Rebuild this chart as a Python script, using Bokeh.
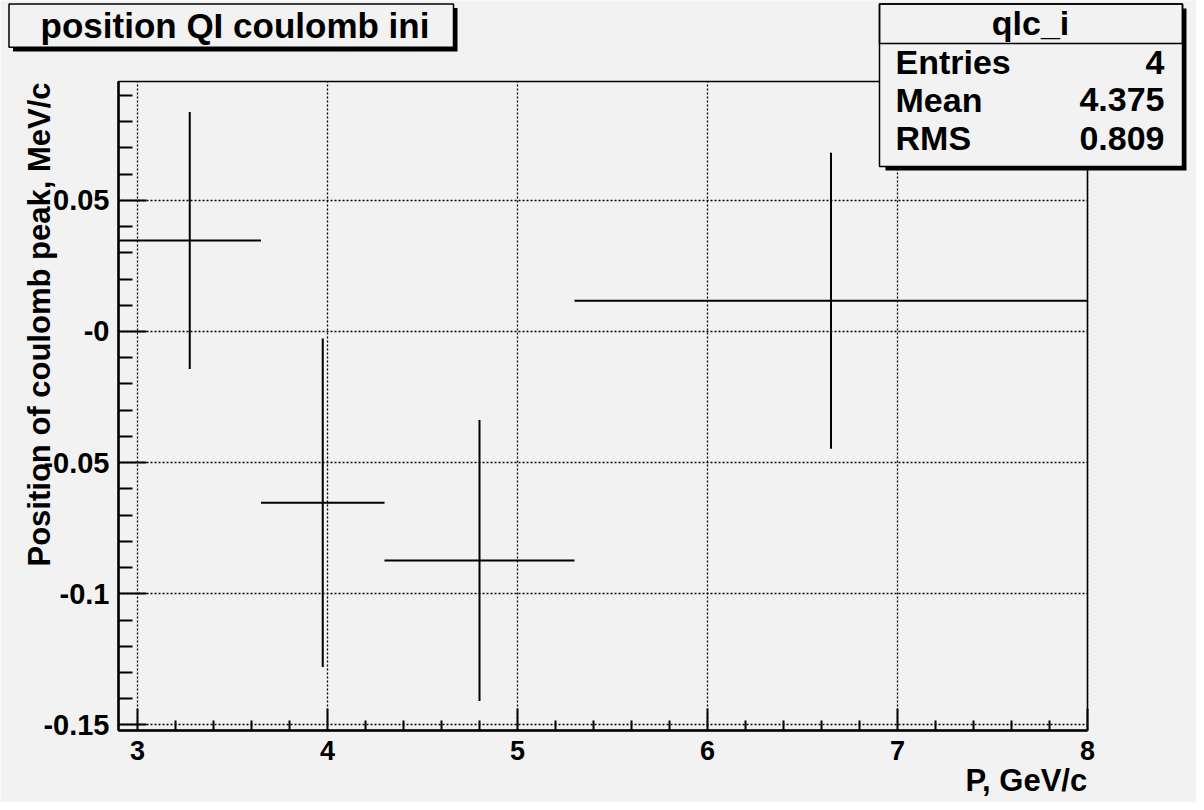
from bokeh.plotting import figure
from bokeh.models import Range1d, FixedTicker, BoxAnnotation, Label, ColumnDataSource, Grid
from bokeh.embed import file_html
from bokeh.resources import INLINE

# ---------------- data ----------------
bin_low = [2.9, 3.65, 4.3, 5.3]
bin_high = [3.65, 4.3, 5.3, 8.0]
peak_pos = [0.0347, -0.0653, -0.0873, 0.0117]
peak_err = [0.0490, 0.0626, 0.0536, 0.0564]

x_major = [3, 4, 5, 6, 7, 8]
x_minor = [3.2, 3.4, 3.6, 3.8, 4.2, 4.4, 4.6, 4.8, 5.2, 5.4, 5.6, 5.8,
           6.2, 6.4, 6.6, 6.8, 7.2, 7.4, 7.6, 7.8]
y_major = [-0.15, -0.1, -0.05, 0.0, 0.05]
y_major_labels = ["-0.15", "-0.1", "-0.05", "-0", "0.05"]
y_minor = [-0.14, -0.13, -0.12, -0.11, -0.09, -0.08, -0.07, -0.06,
           -0.04, -0.03, -0.02, -0.01, 0.01, 0.02, 0.03, 0.04,
           0.06, 0.07, 0.08, 0.09]

x_start, x_end = 2.9, 8.0          # axis range of the histogram frame
y_start, y_end = -0.1521, 0.0953

title_text = "position QI coulomb ini"
x_title = "P, GeV/c"
y_title = "Position of coulomb peak, MeV/c"
stats_name = "qlc_i"
stats_keys = ["Entries", "Mean", "RMS"]
stats_vals = ["4", "4.375", "0.809"]

# ---------------- layout ----------------
BG = "#f2f2f2"
FONT = "Liberation Sans"
W, H = 1196, 802
FL, FR, FT, FB = 118, 1087, 81, 730   # ROOT frame edges in canvas pixels
BASE_SHIFT = 0.36                     # label anchor -> baseline offset (em)

sx = (x_end - x_start) / (FR - FL)    # data per pixel
sy = (y_end - y_start) / (FB - FT)


def X(px):
    return x_start + (px - FL) * sx


def Y(py):
    return y_end - (py - FT) * sy


# the Bokeh plotting area covers the whole canvas; the ROOT-like frame is
# placed inside it through fixed-location axes
p = figure(width=W, height=H, output_backend="svg", toolbar_location=None,
           x_range=Range1d(X(0), X(W)), y_range=Range1d(Y(H), Y(0)),
           min_border_left=0, min_border_right=0,
           min_border_top=0, min_border_bottom=0)
p.background_fill_color = BG
p.border_fill_color = BG
p.outline_line_color = None

# axes
xa = p.xaxis[0]
xa.fixed_location = y_start
xa.bounds = (x_start, x_end)
xa.ticker = FixedTicker(ticks=x_major, minor_ticks=x_minor)
xa.major_tick_in = 22
xa.major_tick_out = 0
xa.minor_tick_in = 10
xa.minor_tick_out = 0
xa.axis_line_width = 2.5
xa.major_tick_line_width = 2
xa.minor_tick_line_width = 2
xa.major_label_text_font = FONT
xa.major_label_text_font_style = "bold"
xa.major_label_text_font_size = "27px"
xa.major_label_text_color = "black"
xa.major_label_standoff = 10

ya = p.yaxis[0]
ya.fixed_location = x_start
ya.bounds = (y_start, y_end)
ya.ticker = FixedTicker(ticks=y_major, minor_ticks=y_minor)
ya.major_label_overrides = dict(zip(y_major, y_major_labels))
ya.major_tick_in = 28
ya.major_tick_out = 0
ya.minor_tick_in = 14
ya.minor_tick_out = 0
ya.axis_line_width = 2.5
ya.major_tick_line_width = 2
ya.minor_tick_line_width = 2
ya.major_label_text_font = FONT
ya.major_label_text_font_style = "bold"
ya.major_label_text_font_size = "29px"
ya.major_label_text_color = "black"
ya.major_label_standoff = 9

# grids
has_cross = "cross_bounds" in Grid.properties()
if has_cross:
    p.xgrid.ticker = FixedTicker(ticks=x_major)
    p.ygrid.ticker = FixedTicker(ticks=y_major)
    p.xgrid.bounds = (x_start, x_end)
    p.xgrid.cross_bounds = (y_start, y_end)
    p.ygrid.bounds = (y_start, y_end)
    p.ygrid.cross_bounds = (x_start, x_end)
    for g in (p.xgrid[0], p.ygrid[0]):
        g.grid_line_color = "black"
        g.grid_line_dash = "2 2"
        g.grid_line_width = 1.3
        g.grid_line_alpha = 1.0
else:
    p.xgrid.visible = False
    p.ygrid.visible = False
    p.segment(x0=x_major, y0=[y_start] * len(x_major), x1=x_major, y1=[y_end] * len(x_major),
              line_color="black", line_dash="2 2", line_width=1.3)
    p.segment(x0=[x_start] * len(y_major), y0=y_major, x1=[x_end] * len(y_major), y1=y_major,
              line_color="black", line_dash="2 2", line_width=1.3)

# frame outline
p.add_layout(BoxAnnotation(left=x_start, right=x_end, bottom=y_start, top=y_end,
                           fill_alpha=0.0, line_color="black", line_width=1.5,
                           line_alpha=1.0, level="underlay"))

# error bars
src = ColumnDataSource(dict(
    lo=bin_low, hi=bin_high,
    c=[(a + b) / 2 for a, b in zip(bin_low, bin_high)],
    y=peak_pos,
    ylo=[v - e for v, e in zip(peak_pos, peak_err)],
    yhi=[v + e for v, e in zip(peak_pos, peak_err)],
))
p.segment(x0="lo", y0="y", x1="hi", y1="y", source=src, line_color="black", line_width=2)
p.segment(x0="c", y0="ylo", x1="c", y1="yhi", source=src, line_color="black", line_width=2)


def box(l, r, t, b, fill, fill_alpha=1.0, line=True):
    return BoxAnnotation(left=X(l), right=X(r), top=Y(t), bottom=Y(b),
                         fill_color=fill, fill_alpha=fill_alpha,
                         line_color="black", line_alpha=1.0 if line else 0.0,
                         line_width=1.5, level="annotation")


def label(px, py, text, size, align="left", angle=0):
    # (px, py): where the text baseline should sit, in canvas pixels
    shift = BASE_SHIFT * size
    if angle == 90:
        px -= shift
    else:
        py -= shift
    return Label(x=X(px), y=Y(py), text=text, text_align=align,
                 text_baseline="alphabetic", text_font=FONT,
                 text_font_style="bold", text_font_size=f"{size}px",
                 text_color="black", angle=angle, angle_units="deg")


# title box
p.add_layout(box(12.5, 457, 7.5, 51, "black", line=False))
p.add_layout(box(8.5, 453, 3.5, 46.7, BG))
p.add_layout(label(234.5, 37.5, title_text, 35, "center"))

# stats box
p.add_layout(box(885, 1186, 8, 170, "black", line=False))
p.add_layout(box(879, 1182, 3.5, 166, BG))
p.add_layout(box(879, 1182, 3.5, 43, BG, fill_alpha=0.0))
p.add_layout(label(1030, 35, stats_name, 34, "center"))
for i, (k, v) in enumerate(zip(stats_keys, stats_vals)):
    base = [74, 111.7, 150][i]
    p.add_layout(label(895, base, k, 34, "left"))
    p.add_layout(label(1164, base, v, 34, "right"))

# axis titles
p.add_layout(label(1086.7, 791, x_title, 31, "right"))
p.add_layout(label(50, 82, y_title, 31, "right", angle=90))

html = file_html(p, INLINE)
html = html.replace("<body>", '<body style="background-color:#f2f2f2;">', 1)
open("out.html", "w").write(html)
